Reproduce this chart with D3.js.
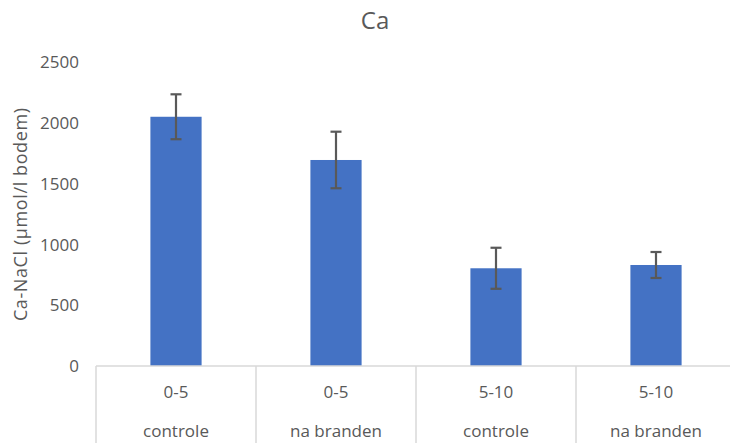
<!DOCTYPE html>
<html>
<head>
<meta charset="utf-8">
<script src="https://cdn.jsdelivr.net/npm/d3@7"></script>
<style>
  html, body { margin: 0; padding: 0; background: #fff; }
  svg { display: block; font-family: "Open Sans", "Noto Sans", sans-serif; }
</style>
</head>
<body>
<svg id="chart" width="730" height="443"></svg>
<script>
// Ca extracted with NaCl, per depth and treatment
const depths = ["0-5", "0-5", "5-10", "5-10"];
const treatments = ["controle", "na branden", "controle", "na branden"];
const caValues = [2053, 1697, 805, 832];
const caErrors = [185, 233, 169, 107];
const yTicks = [0, 500, 1000, 1500, 2000, 2500];

const svg = d3.select("#chart");
const W = 730, H = 443;
const plot = { left: 96, right: 736, top: 62.5, bottom: 366 };
const textColor = "#595959";
const lineColor = "#d9d9d9";
const labelSize = 17;

const groups = depths.map((d, i) => i);

const x = d3.scaleBand()
  .domain(groups)
  .range([plot.left, plot.right])
  .paddingInner(0)
  .paddingOuter(0);

const y = d3.scaleLinear()
  .domain([0, 2500])
  .range([plot.bottom, plot.top]);

const barW = x.bandwidth() * 0.32;

// title
svg.append("text")
  .attr("x", 375)
  .attr("y", 29)
  .attr("text-anchor", "middle")
  .attr("font-size", 24)
  .attr("fill", textColor)
  .text("Ca");

// y axis (labels only)
const yAxis = d3.axisLeft(y)
  .tickValues(yTicks)
  .tickFormat(d3.format("d"))
  .tickSize(0)
  .tickPadding(0);
const gy = svg.append("g")
  .attr("transform", `translate(${79},0)`)
  .call(yAxis);
gy.select(".domain").remove();
gy.selectAll("text")
  .attr("font-size", labelSize)
  .attr("font-family", "'Open Sans', 'Noto Sans', sans-serif")
  .attr("fill", textColor);

// y axis title
svg.append("text")
  .attr("transform", `translate(27,${(plot.top + plot.bottom) / 2}) rotate(-90)`)
  .attr("text-anchor", "middle")
  .attr("font-size", 18)
  .attr("letter-spacing", 0.6)
  .attr("fill", textColor)
  .text("Ca-NaCl (µmol/l bodem)");

// bars
svg.append("g")
  .selectAll("rect")
  .data(groups)
  .join("rect")
  .attr("x", i => x(i) + (x.bandwidth() - barW) / 2)
  .attr("y", i => y(caValues[i]))
  .attr("width", barW)
  .attr("height", i => y(0) - y(caValues[i]))
  .attr("fill", "#4472C4");

// error bars
const eb = svg.append("g")
  .attr("stroke", "#595959")
  .attr("stroke-width", 2.2)
  .selectAll("g")
  .data(groups)
  .join("g")
  .attr("transform", i => `translate(${x(i) + x.bandwidth() / 2},0)`);
eb.append("line")
  .attr("y1", i => y(caValues[i] + caErrors[i]))
  .attr("y2", i => y(caValues[i] - caErrors[i]));
eb.append("line")
  .attr("x1", -5.5).attr("x2", 5.5)
  .attr("y1", i => y(caValues[i] + caErrors[i]))
  .attr("y2", i => y(caValues[i] + caErrors[i]));
eb.append("line")
  .attr("x1", -5.5).attr("x2", 5.5)
  .attr("y1", i => y(caValues[i] - caErrors[i]))
  .attr("y2", i => y(caValues[i] - caErrors[i]));

// category axis: baseline and group boxes
const gx = svg.append("g");
gx.append("line")
  .attr("x1", plot.left).attr("x2", W + 10)
  .attr("y1", y(0)).attr("y2", y(0))
  .attr("stroke", lineColor).attr("stroke-width", 1.5);
gx.selectAll("line.sep")
  .data(groups.concat([groups.length]))
  .join("line")
  .attr("class", "sep")
  .attr("x1", i => plot.left + i * x.step())
  .attr("x2", i => plot.left + i * x.step())
  .attr("y1", y(0)).attr("y2", H)
  .attr("stroke", lineColor).attr("stroke-width", 1.5);

gx.selectAll("text.depth")
  .data(groups)
  .join("text")
  .attr("class", "depth")
  .attr("x", i => x(i) + x.bandwidth() / 2)
  .attr("y", 398)
  .attr("text-anchor", "middle")
  .attr("font-size", labelSize)
  .attr("fill", textColor)
  .text(i => depths[i]);

gx.selectAll("text.treat")
  .data(groups)
  .join("text")
  .attr("class", "treat")
  .attr("x", i => x(i) + x.bandwidth() / 2)
  .attr("y", 437)
  .attr("text-anchor", "middle")
  .attr("font-size", labelSize)
  .attr("fill", textColor)
  .text(i => treatments[i]);
</script>
</body>
</html>
